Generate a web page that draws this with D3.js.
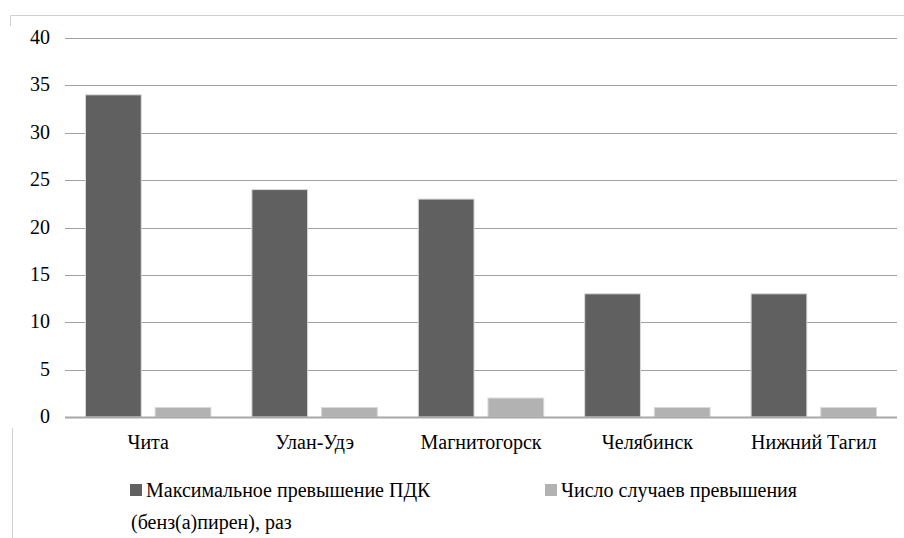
<!DOCTYPE html>
<html><head><meta charset="utf-8"><script src="https://cdn.jsdelivr.net/npm/d3@7"></script></head>
<body style="margin:0">
<svg width="904" height="538"></svg>
<script>
var width = 904;
var height = 538;

var cities = ["Чита", "Улан-Удэ", "Магнитогорск", "Челябинск", "Нижний Тагил"];
var maxPdk = [34, 24, 23, 13, 13];
var cases = [1, 1, 2, 1, 1];
var seriesNames = ["Максимальное превышение ПДК", "Число случаев превышения"];
var yTicks = [0, 5, 10, 15, 20, 25, 30, 35, 40];

var colors = ["#606060", "#b2b2b2"];
var font = "20px 'Liberation Serif', 'Times New Roman', serif";

var svg = d3.select("svg");

// frame pieces (cropped word chart)
svg.append("path")
  .attr("d", "M10.5,26 V15.5 H904")
  .attr("fill", "none").attr("stroke", "#d0d0d0");
svg.append("line")
  .attr("x1", 12.5).attr("x2", 12.5).attr("y1", 428).attr("y2", 538)
  .attr("stroke", "#d0d0d0");

var x = d3.scaleBand().domain(cities).range([65, 897]);
var y = d3.scaleLinear().domain([0, 40]).range([417, 38]);

// gridlines
svg.append("g")
  .selectAll("line")
  .data(yTicks.slice(1))
  .enter()
  .append("line")
    .attr("x1", 65).attr("x2", 897)
    .attr("y1", d => Math.round(y(d)) + 0.5)
    .attr("y2", d => Math.round(y(d)) + 0.5)
    .attr("stroke", "#a0a0a0");

// y tick labels
svg.selectAll("text.ytick")
  .data(yTicks)
  .enter()
  .append("text")
    .attr("class", "ytick")
    .attr("x", 50)
    .attr("y", d => y(d) + 6)
    .attr("text-anchor", "end")
    .style("font", font)
    .text(d => d);

var inner = d3.scaleBand().domain([0, 1]).range([20.5, x.bandwidth() - 20.5]).paddingInner(0.2);

var groups = svg.append("g")
  .selectAll("g")
  .data(cities)
  .enter()
  .append("g")
    .attr("transform", d => "translate(" + x(d) + ",0)");

groups.selectAll("rect")
  .data((d, i) => [maxPdk[i], cases[i]])
  .enter()
  .append("rect")
    .attr("x", (d, j) => inner(j))
    .attr("width", inner.bandwidth())
    .attr("y", d => y(d))
    .attr("height", d => y(0) - y(d))
    .attr("fill", (d, j) => colors[j])
    .attr("stroke", "#d8d8d8")
    .attr("stroke-width", 1);

// x axis line
svg.append("line")
  .attr("x1", 65).attr("x2", 897)
  .attr("y1", 417.5).attr("y2", 417.5)
  .attr("stroke", "#a8a8a8").attr("stroke-width", 2);

// category labels
svg.selectAll("text.cat")
  .data(cities)
  .enter()
  .append("text")
    .attr("class", "cat")
    .attr("x", d => x(d) + x.bandwidth() / 2)
    .attr("y", 449)
    .attr("text-anchor", "middle")
    .style("font", font)
    .text(d => d);

// legend
var legendX = [130, 545];
var legendLines = [[seriesNames[0], "(бенз(а)пирен), раз"], [seriesNames[1]]];

svg.selectAll("rect.key")
  .data(legendX)
  .enter()
  .append("rect")
    .attr("class", "key")
    .attr("x", d => d).attr("y", 484)
    .attr("width", 12).attr("height", 12)
    .attr("fill", (d, i) => colors[i]);

legendLines.forEach(function (lines, i) {
  svg.selectAll("text.leg" + i)
    .data(lines)
    .enter()
    .append("text")
      .attr("class", "leg" + i)
      .attr("x", (d, k) => k === 0 ? legendX[i] + 16 : legendX[i] + 1)
      .attr("y", (d, k) => 497 + k * 32)
      .style("font", font)
      .text(d => d);
});
</script>
</body>
</html>
